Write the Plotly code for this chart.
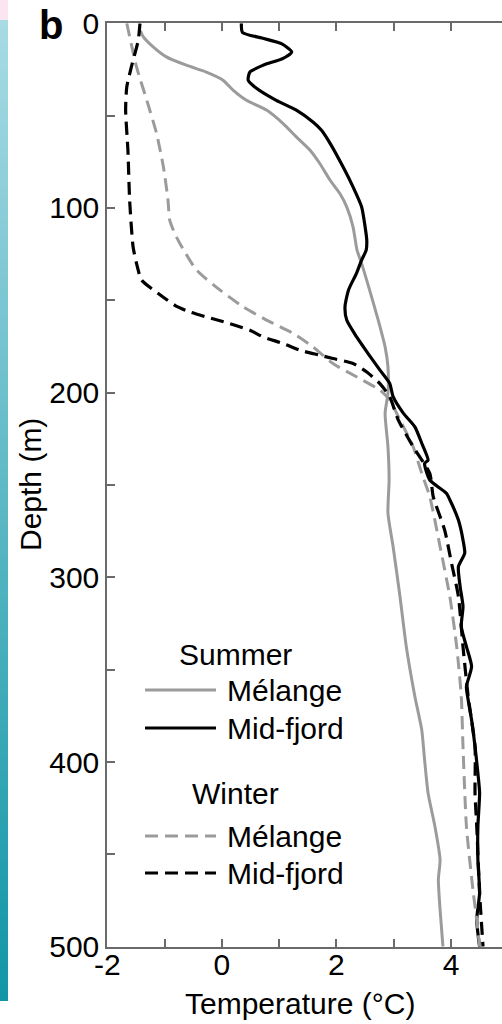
import plotly.graph_objects as go

# ---------------- data ----------------
summer_mid_depth = [0, 5, 8, 11, 15.5, 19, 22.7, 26.4, 30.8, 35.3, 41.7, 47, 53.4, 57.9, 65, 78, 88.6,
                    99.4, 110, 117.4, 122.8, 128.2, 135.4, 144.5, 153.5, 160.7, 169.7, 178.7, 187.8,
                    195, 202.2, 211.2, 218.5, 227.4, 236.5, 238.3, 247.3, 254.5, 258, 269, 279.8, 287,
                    294.2, 305, 315.8, 326.7, 337.5, 348.3, 359.1, 366.3, 377.2, 391.6, 406, 416.7,
                    434.9, 452.9, 470.9, 485.4, 500]
summer_mid_temp = [0.34, 0.36, 0.70, 1.04, 1.22, 1.07, 0.72, 0.49, 0.46, 0.61, 0.95, 1.30, 1.59, 1.74,
                   1.89, 2.12, 2.29, 2.44, 2.50, 2.53, 2.52, 2.44, 2.35, 2.21, 2.15, 2.18, 2.35, 2.55,
                   2.76, 2.93, 2.99, 3.17, 3.37, 3.49, 3.60, 3.54, 3.63, 3.92, 3.98, 4.13, 4.21, 4.24,
                   4.13, 4.16, 4.21, 4.18, 4.27, 4.36, 4.27, 4.30, 4.36, 4.42, 4.47, 4.50, 4.47, 4.47,
                   4.50, 4.45, 4.50]

summer_mel_depth = [4, 7.4, 12.8, 18.2, 22.7, 26.4, 30.8, 36.3, 41.7, 47, 54.3, 61.5, 68.7, 75.9, 85,
                    92.2, 99.4, 110.2, 122.8, 130, 144.5, 160.7, 175.2, 186, 200.4, 211.2, 229.3,
                    247.3, 265.3, 283.4, 310.4, 337.5, 364.5, 382.6, 399, 416.8, 434.9, 452.9, 463.7,
                    480, 500]
summer_mel_temp = [-1.42, -1.37, -1.20, -0.97, -0.62, -0.27, 0.02, 0.20, 0.43, 0.78, 1.07, 1.30, 1.54,
                   1.71, 1.89, 2.06, 2.18, 2.29, 2.36, 2.44, 2.58, 2.73, 2.85, 2.90, 2.90, 2.85, 2.90,
                   2.92, 2.90, 2.99, 3.11, 3.22, 3.37, 3.49, 3.54, 3.60, 3.72, 3.81, 3.78, 3.81, 3.86]

winter_mel_depth = [0, 23.6, 41.7, 59.7, 77.8, 95.8, 106.6, 114, 121, 133.7, 144.5, 153.5, 160.7, 168,
                    175.2, 184.2, 191.4, 198.6, 204, 214.8, 229.3, 243.7, 256.3, 283.4, 310.4, 337.5,
                    364.5, 391.6, 434.9, 470.9, 485.4, 500]
winter_mel_temp = [-1.66, -1.49, -1.31, -1.14, -1.02, -0.94, -0.91, -0.82, -0.70, -0.44, -0.03, 0.37,
                   0.78, 1.25, 1.59, 1.94, 2.35, 2.76, 2.93, 3.11, 3.34, 3.49, 3.63, 3.81, 3.98, 4.10,
                   4.18, 4.21, 4.27, 4.39, 4.45, 4.50]

winter_mid_depth = [0, 9.2, 23.6, 34.5, 47, 68.7, 95.8, 121, 130, 139.1, 146.3, 152.7, 156.3, 159,
                    162.6, 166.2, 169.8, 173.4, 177, 179.7, 181.5, 184.2, 188.8, 195.1, 202.2, 214.8,
                    229.3, 243.7, 256.3, 274.4, 292.4, 310.4, 337.5, 364.5, 391.6, 416.8, 434.9,
                    470.9, 500]
winter_mid_temp = [-1.43, -1.46, -1.58, -1.66, -1.68, -1.64, -1.61, -1.55, -1.49, -1.40, -1.11, -0.82,
                   -0.56, -0.27, 0.14, 0.49, 0.72, 1.07, 1.36, 1.71, 1.94, 2.29, 2.53, 2.76, 2.93, 3.08,
                   3.34, 3.63, 3.69, 3.89, 4.01, 4.13, 4.21, 4.30, 4.42, 4.42, 4.45, 4.50, 4.56]

x_tickvals = [-2, -1, 0, 1, 2, 3, 4]
x_ticktext = ["-2", "", "0", "", "2", "", "4"]
y_tickvals = [0, 50, 100, 150, 200, 250, 300, 350, 400, 450, 500]
y_ticktext = ["0", "", "100", "", "200", "", "300", "", "400", "", "500"]

legend_groups = ["Summer", "Winter"]
legend_items = ["Mélange", "Mid-fjord"]

# ---------------- styling ----------------
W, H = 502, 1024
FONT = "Liberation Sans, Arial, Helvetica, sans-serif"
GRAY = "#9b9b9b"
BLACK = "#000000"
AXIS = "#6a6a6a"
DASH = "13px,7px"


def px(x):
    return x / W


def py(y):
    return 1 - y / H


fig = go.Figure()

series = [
    (summer_mel_temp, summer_mel_depth, GRAY, "solid", 3.0, "Summer Mélange"),
    (summer_mid_temp, summer_mid_depth, BLACK, "solid", 3.2, "Summer Mid-fjord"),
    (winter_mel_temp, winter_mel_depth, GRAY, DASH, 3.0, "Winter Mélange"),
    (winter_mid_temp, winter_mid_depth, BLACK, DASH, 3.2, "Winter Mid-fjord"),
]
for t, d, c, dash, w, name in series:
    fig.add_trace(go.Scatter(x=t, y=d, mode="lines", name=name, showlegend=False,
                             line=dict(color=c, width=w, dash=dash, shape="spline", smoothing=0.6),
                             xaxis="x", yaxis="y"))

# decorative colour strip at the left edge (edge of neighbouring panel)
N = 300
fig.add_trace(go.Heatmap(z=[[i / (N - 1)] for i in range(N)], showscale=False, hoverinfo="skip",
                         colorscale=[[0, "#fbe5ee"], [0.018, "#fbe5ee"], [0.018, "#a8dbe4"],
                                     [0.5, "#5cb8c5"], [1, "#1196a6"]],
                         xaxis="x2", yaxis="y2"))

fig.update_layout(
    template="none",
    width=W, height=H, autosize=False,
    margin=dict(l=0, r=0, t=0, b=0, pad=0, autoexpand=False),
    paper_bgcolor="white", plot_bgcolor="white",
    font=dict(family=FONT, size=30, color="black"),
    xaxis=dict(domain=[px(107.3), 1], range=[-2, 4.891], showgrid=False, zeroline=False,
               automargin=False,
               showline=True, linecolor=AXIS, linewidth=2, mirror="ticks",
               ticks="inside", ticklen=8, tickwidth=2, tickcolor=AXIS,
               tickvals=x_tickvals, ticktext=x_ticktext, tickfont=dict(size=30),
               ticklabelstandoff=-10),
    yaxis=dict(domain=[py(946.7), py(23.3)], range=[500, 0], showgrid=False, zeroline=False,
               automargin=False,
               showline=True, linecolor=AXIS, linewidth=2, mirror=False,
               ticks="inside", ticklen=8, tickwidth=2, tickcolor=AXIS,
               tickvals=y_tickvals, ticktext=y_ticktext, tickfont=dict(size=30),
               ticklabelstandoff=0),
    xaxis2=dict(domain=[0, px(8)], visible=False, fixedrange=True, automargin=False),
    yaxis2=dict(domain=[py(1001), 1], visible=False, autorange="reversed", fixedrange=True,
                automargin=False),
)

ann = []
ann.append(dict(text="<b>b</b>", x=px(51), y=py(25), xref="paper", yref="paper",
                showarrow=False, font=dict(size=40), xanchor="center", yanchor="middle"))
ann.append(dict(text="Depth (m)", x=px(30), y=py(485), xref="paper", yref="paper",
                showarrow=False, textangle=-90, xanchor="center", yanchor="middle"))
ann.append(dict(text="Temperature (°C)", x=px(300), y=py(1003), xref="paper", yref="paper",
                showarrow=False, xanchor="center", yanchor="middle"))

# manual legend
group_y = [654, 793]
group_x = [177, 190]
item_y = [[690, 728], [836, 873]]
styles = [[(GRAY, "solid", 3.0), (BLACK, "solid", 3.2)],
          [(GRAY, DASH, 3.0), (BLACK, DASH, 3.2)]]
shapes = []
for g in range(2):
    ann.append(dict(text=legend_groups[g], x=px(group_x[g]), y=py(group_y[g]), xref="paper",
                    yref="paper", showarrow=False, xanchor="left", yanchor="middle"))
    for k in range(2):
        c, dash, w = styles[g][k]
        yy = item_y[g][k]
        shapes.append(dict(type="line", xref="paper", yref="paper", x0=px(145), x1=px(216),
                           y0=py(yy), y1=py(yy), line=dict(color=c, width=w, dash=dash)))
        ann.append(dict(text=legend_items[k], x=px(225), y=py(yy), xref="paper", yref="paper",
                        showarrow=False, xanchor="left", yanchor="middle"))

fig.update_layout(annotations=ann, shapes=shapes)
fig.write_html("out.html")
